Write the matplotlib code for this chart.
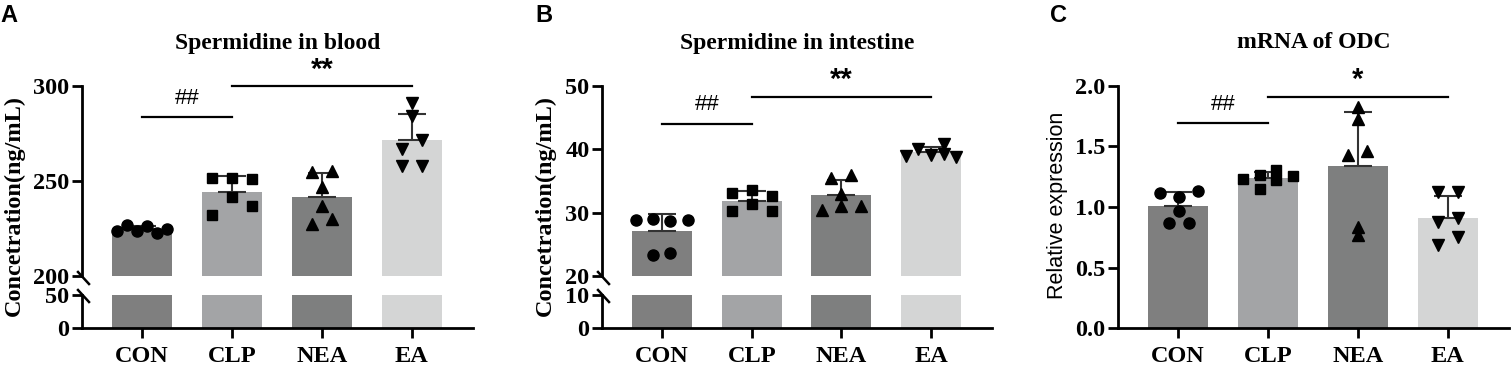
import numpy as np
import matplotlib
matplotlib.use("Agg")
import matplotlib.pyplot as plt
from matplotlib.lines import Line2D

# ---------------- data ----------------
groups = ["CON", "CLP", "NEA", "EA"]

blood_con = [223.5, 227.0, 223.5, 226.5, 222.6, 224.7]
blood_clp = [251.4, 251.4, 250.9, 241.5, 232.2, 236.6]
blood_nea = [254.7, 255.2, 247.0, 236.6, 227.4, 230.0]
blood_ea = [290.9, 284.0, 266.6, 271.8, 257.8, 257.8]

intes_con = [28.8, 29.06, 28.7, 28.9, 23.3, 23.7]
intes_clp = [33.14, 33.6, 32.7, 31.4, 30.2, 30.2]
intes_nea = [35.4, 35.97, 33.0, 30.4, 31.05, 31.0]
intes_ea = [39.0, 40.05, 39.16, 40.9, 39.27, 38.85]

odc_con = [1.114, 1.081, 1.133, 0.963, 0.867, 0.867]
odc_clp = [1.231, 1.264, 1.306, 1.223, 1.259, 1.146]
odc_nea = [1.829, 1.725, 1.430, 1.465, 0.837, 0.769]
odc_ea = [1.120, 1.120, 0.880, 0.908, 0.688, 0.756]

titles = ["Spermidine in blood", "Spermidine in intestine", "mRNA of ODC"]
panel_letters = ["A", "B", "C"]

# ---------------- layout / style ----------------
W, H = 1511, 365
bar_colors = ["#7f7f7f", "#a3a4a6", "#7e7f7f", "#d4d5d5"]
markers = ["o", "s", "^", "v"]
msizes = [8.0, 7.6, 8.8, 8.8]
# horizontal scatter offsets in pixels (layout of the dots inside each bar)
off_blood = [[-25, -15, -5, 5, 15, 25], [-20, 0, 20, 0, -20, 20],
             [-10, 10, 0, 0, -10, 10], [0, 0, -10, 10, -10, 10]]
off_intes = [[-26, -9, 8, 26, -9, 8], [-20, 0, 20, 0, -20, 20],
             [-10, 10, 0, -19, 0, 20], [-25, -13, 0, 13, 13, 25]]
off_odc = [[-18, 1, 20, 1, -9, 11], [-25, -8, 8, 8, 25, -8],
           [0, 0, -10, 9, 0, 0], [-10, 10, -10, 10, -10, 10]]
PX_PER_UNIT = 90.0

SERIF = "Liberation Serif"
SANS = "Liberation Sans"
TICKFS = 17.5
plt.rcParams["font.family"] = SERIF
plt.rcParams["font.weight"] = "bold"

fig = plt.figure(figsize=(W / 100, H / 100), dpi=100)


def rect(x0, y0, x1, y1):
    return [x0 / W, 1 - y1 / H, (x1 - x0) / W, (y1 - y0) / H]


x = np.arange(len(groups))
XLIM = (-0.67, 3.68)
BW = 0.67


def style_ax(ax):
    for s in ["top", "right"]:
        ax.spines[s].set_visible(False)
    for s in ["left", "bottom"]:
        ax.spines[s].set_linewidth(2.0)
    ax.tick_params(axis="both", width=2.0, length=7, labelsize=TICKFS, pad=2)
    ax.tick_params(axis="x", pad=6)
    for lab in ax.get_yticklabels() + ax.get_xticklabels():
        lab.set_fontweight("bold")
        lab.set_fontfamily(SERIF)


def draw_data(ax, data, offs, ebars=True):
    means = [np.mean(d) for d in data]
    sds = [np.std(d, ddof=1) for d in data]
    ax.bar(x, means, width=BW, color=bar_colors, edgecolor="none", zorder=1)
    if ebars:
        ax.errorbar(x, means, yerr=[np.zeros(4), sds], fmt="none",
                    ecolor="#333333", elinewidth=1.5, capsize=10,
                    capthick=1.5, zorder=2)
        for i, d in enumerate(data):
            xs = x[i] + np.array(offs[i]) / PX_PER_UNIT
            ax.plot(xs, d, linestyle="none", marker=markers[i],
                    markersize=msizes[i], color="black", zorder=3,
                    clip_on=False)


def sig(ax, x0, x1, yline, ytext, label, fs, fam, weight):
    ax.plot([x0, x1], [yline, yline], color="black", lw=1.6, clip_on=False,
            zorder=4)
    ax.text((x0 + x1) / 2, ytext, label, ha="center", va="center",
            fontsize=fs, fontfamily=fam, fontweight=weight, clip_on=False)


def broken_panel(px0, px1, top_lim, top_ticks, bot_lim, bot_ticks, data,
                 offs, sig_specs):
    axt = fig.add_axes(rect(px0, 86, px1, 276))
    axb = fig.add_axes(rect(px0, 295, px1, 328))
    draw_data(axt, data, offs, ebars=True)
    draw_data(axb, data, offs, ebars=False)
    axt.set_ylim(*top_lim)
    axb.set_ylim(*bot_lim)
    for a in (axt, axb):
        a.set_xlim(*XLIM)
    axt.set_yticks(top_ticks)
    axb.set_yticks(bot_ticks)
    axt.set_xticks([])
    axb.set_xticks(x)
    axb.set_xticklabels(groups)
    style_ax(axt)
    style_ax(axb)
    axt.spines["bottom"].set_visible(False)
    # break slashes
    sx = px0
    for (ya, yb) in [(272, 284), (290, 302)]:
        fig.add_artist(Line2D([(sx - 4) / W, (sx + 7) / W],
                              [1 - ya / H, 1 - yb / H],
                              transform=fig.transFigure, color="black",
                              lw=1.8))
    for s in sig_specs:
        sig(axt, *s)
    return axt, axb


# Panel A
broken_panel(82, 473, (200, 300), [200, 250, 300], (0, 50), [0, 50],
             [blood_con, blood_clp, blood_nea, blood_ea], off_blood,
             [(0, 1, 283.7, 293.5, "##", 16, SANS, "normal"),
              (1, 3, 300.0, 308.6, "**", 21, SANS, "bold")])

# Panel B
broken_panel(602, 992, (20, 50), [20, 30, 40, 50], (0, 10), [0, 10],
             [intes_con, intes_clp, intes_nea, intes_ea], off_intes,
             [(0, 1, 44.0, 47.1, "##", 16, SANS, "normal"),
              (1, 3, 48.3, 50.9, "**", 21, SANS, "bold")])

# Panel C
axc = fig.add_axes(rect(1118, 86, 1509, 328))
draw_data(axc, [odc_con, odc_clp, odc_nea, odc_ea], off_odc)
axc.set_ylim(0, 2.0)
axc.set_xlim(*XLIM)
axc.set_yticks([0.0, 0.5, 1.0, 1.5, 2.0])
axc.set_yticklabels(["0.0", "0.5", "1.0", "1.5", "2.0"])
axc.set_xticks(x)
axc.set_xticklabels(groups)
style_ax(axc)
sig(axc, 0, 1, 1.694, 1.845, "##", 16, SANS, "normal")
sig(axc, 1, 3, 1.909, 2.05, "*", 21, SANS, "bold")

# titles, y labels, panel letters
title_x = [277.5, 797, 1313.5]
for tx, t in zip(title_x, titles):
    fig.text(tx / W, 1 - 43 / H, t, ha="center", va="center", fontsize=17,
             fontfamily=SERIF, fontweight="bold")

fig.text(14 / W, 1 - 205 / H, "Concetration(ng/mL)", rotation=90,
         ha="center", va="center", fontsize=17.5, fontfamily=SERIF,
         fontweight="bold")
fig.text(545 / W, 1 - 205 / H, "Concetration(ng/mL)", rotation=90,
         ha="center", va="center", fontsize=17.5, fontfamily=SERIF,
         fontweight="bold")
fig.text(1057 / W, 1 - 205 / H, "Relative expression", rotation=90,
         ha="center", va="center", fontsize=15.5, fontfamily=SANS,
         fontweight="normal")

letter_x = [0, 535, 1050]
for lx, L in zip(letter_x, panel_letters):
    fig.text(lx / W, 1 - 15 / H, L, ha="left", va="center", fontsize=17,
             fontfamily=SANS, fontweight="bold")

fig.savefig("out.png", dpi=100)
